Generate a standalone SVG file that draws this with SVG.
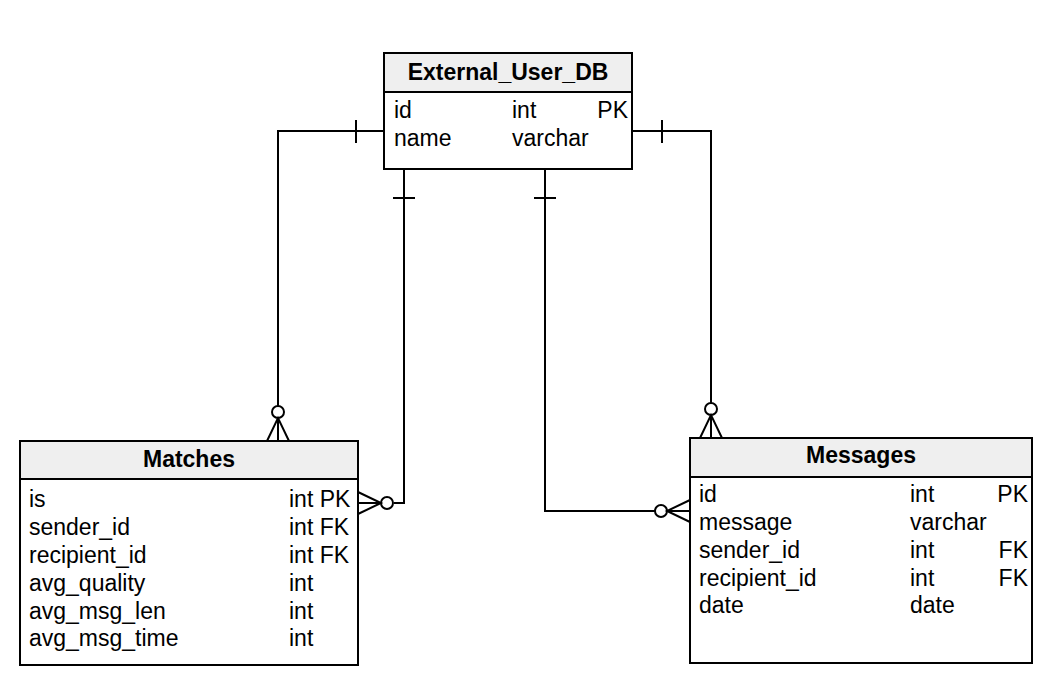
<svg xmlns="http://www.w3.org/2000/svg" width="1062" height="684" viewBox="0 0 1062 684">
<style>
.box{fill:#fff;stroke:#000;stroke-width:2}
.hdr{fill:#efefef;stroke:#000;stroke-width:2}
.t{font-family:"Liberation Sans",Arial,sans-serif;font-size:23px;fill:#000}
.b{font-weight:bold;text-anchor:middle}
.r{text-anchor:end}
.c{fill:none;stroke:#000;stroke-width:2}
.o{fill:#fff;stroke:#000;stroke-width:2}
</style>
<rect width="1062" height="684" fill="#fff"/>
<g id="connectors">
  <!-- External -> Matches (top) -->
  <polyline class="c" points="384,131 278,131 278,406"/>
  <line class="c" x1="356" y1="120" x2="356" y2="143"/>
  <circle class="o" cx="278" cy="412" r="6"/>
  <polyline class="c" points="267,441 278,418 289,441"/>
  <line class="c" x1="278" y1="418" x2="278" y2="441"/>
  <!-- External -> Matches (right) -->
  <polyline class="c" points="404,169 404,503 394,503"/>
  <line class="c" x1="393" y1="198" x2="415" y2="198"/>
  <circle class="o" cx="387" cy="503" r="6"/>
  <polyline class="c" points="358,492 381,503 358,514"/>
  <line class="c" x1="358" y1="503" x2="381" y2="503"/>
  <!-- External -> Messages (left) -->
  <polyline class="c" points="545,169 545,511 655,511"/>
  <line class="c" x1="534" y1="198" x2="556" y2="198"/>
  <circle class="o" cx="661" cy="511" r="6"/>
  <polyline class="c" points="690,500 667,511 690,522"/>
  <line class="c" x1="667" y1="511" x2="690" y2="511"/>
  <!-- External -> Messages (top) -->
  <polyline class="c" points="632,131 711,131 711,403"/>
  <line class="c" x1="662" y1="120" x2="662" y2="143"/>
  <circle class="o" cx="711" cy="409" r="6"/>
  <polyline class="c" points="700,438 711,415 722,438"/>
  <line class="c" x1="711" y1="415" x2="711" y2="438"/>
</g>
<g id="external_user_db">
  <rect class="box" x="384" y="53" width="248" height="116"/>
  <rect class="hdr" x="384" y="53" width="248" height="39"/>
  <text class="t b" x="508" y="80">External_User_DB</text>
  <text class="t" x="394" y="118">id</text>
  <text class="t" x="512" y="118">int</text>
  <text class="t r" x="628" y="118">PK</text>
  <text class="t" x="394" y="146">name</text>
  <text class="t" x="512" y="146">varchar</text>
</g>
<g id="matches">
  <rect class="box" x="20" y="441" width="338" height="224"/>
  <rect class="hdr" x="20" y="441" width="338" height="38"/>
  <text class="t b" x="189" y="467">Matches</text>
  <text class="t" x="29" y="507">is</text>
  <text class="t" x="289" y="507">int PK</text>
  <text class="t" x="29" y="535">sender_id</text>
  <text class="t" x="289" y="535">int FK</text>
  <text class="t" x="29" y="563">recipient_id</text>
  <text class="t" x="289" y="563">int FK</text>
  <text class="t" x="29" y="591">avg_quality</text>
  <text class="t" x="289" y="591">int</text>
  <text class="t" x="29" y="619">avg_msg_len</text>
  <text class="t" x="289" y="619">int</text>
  <text class="t" x="29" y="646">avg_msg_time</text>
  <text class="t" x="289" y="646">int</text>
</g>
<g id="messages">
  <rect class="box" x="690" y="438" width="342" height="225"/>
  <rect class="hdr" x="690" y="438" width="342" height="39"/>
  <text class="t b" x="861" y="463">Messages</text>
  <text class="t" x="699" y="502">id</text>
  <text class="t" x="910" y="502">int</text>
  <text class="t r" x="1028" y="502">PK</text>
  <text class="t" x="699" y="530">message</text>
  <text class="t" x="910" y="530">varchar</text>
  <text class="t" x="699" y="558">sender_id</text>
  <text class="t" x="910" y="558">int</text>
  <text class="t r" x="1028" y="558">FK</text>
  <text class="t" x="699" y="586">recipient_id</text>
  <text class="t" x="910" y="586">int</text>
  <text class="t r" x="1028" y="586">FK</text>
  <text class="t" x="699" y="613">date</text>
  <text class="t" x="910" y="613">date</text>
</g>
</svg>
